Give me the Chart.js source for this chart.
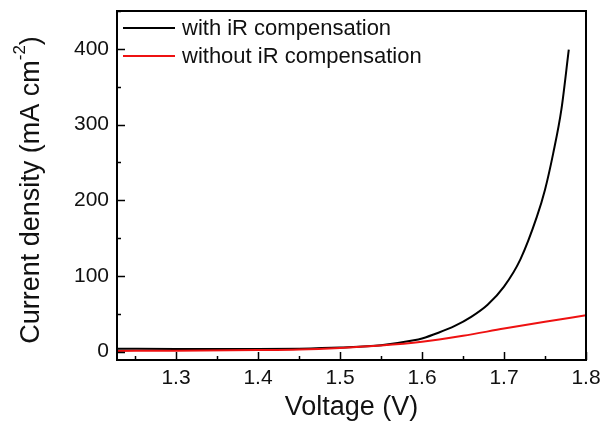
<!DOCTYPE html>
<html>
<head>
<meta charset="utf-8">
<script src="https://cdn.jsdelivr.net/npm/chart.js@4.4.1/dist/chart.umd.min.js"></script>
<style>
  html, body { margin: 0; padding: 0; background: #fff; }
  #wrap { width: 605px; height: 425px; }
</style>
</head>
<body>
<div id="wrap"><canvas id="chart-iv"></canvas></div>
<script>
// datos
const voltajeCon = [1.228, 1.30, 1.40, 1.45, 1.50, 1.55, 1.59, 1.60, 1.62, 1.64, 1.66, 1.68, 1.70, 1.72, 1.74, 1.75, 1.76, 1.77, 1.779];
const corrienteCon = [4, 3.5, 3.5, 4, 5.5, 8.5, 15, 17.5, 25, 34, 46, 62, 86, 122, 178, 214, 262, 320, 399];

const voltajeSin = [1.228, 1.30, 1.40, 1.45, 1.50, 1.55, 1.60, 1.65, 1.70, 1.75, 1.80];
const corrienteSin = [1, 1.3, 2.2, 3, 5, 8, 13, 21, 30.5, 39.5, 48];

const etiquetas = ["with iR compensation", "without iR compensation"];
const colores = ["#000000", "#ee1111"];

const ticksX = [1.3, 1.4, 1.5, 1.6, 1.7, 1.8];
const ticksY = [0, 100, 200, 300, 400];

const fuente = "'Liberation Sans', Arial, sans-serif";
const toXY = (xs, ys) => xs.map((x, i) => ({ x: x, y: ys[i] }));

// marco, ticks hacia dentro, leyenda y titulo Y
const decoracion = {
  id: "decoracion",
  afterDatasetsDraw(chart) {
    const { ctx, chartArea: a, scales } = chart;
    ctx.save();
    ctx.strokeStyle = "#000";
    ctx.lineWidth = 2;
    ctx.strokeRect(a.left, a.top, a.right - a.left, a.bottom - a.top);

    ctx.lineWidth = 1.5;
    ctx.beginPath();
    for (let v = 1.25; v <= 1.8001; v += 0.05) {
      const px = Math.round(scales.x.getPixelForValue(v)) + 0.5;
      const major = Math.abs(v * 10 - Math.round(v * 10)) < 0.01;
      ctx.moveTo(px, a.bottom);
      ctx.lineTo(px, a.bottom - (major ? 8 : 4));
    }
    for (let v = 0; v <= 450; v += 50) {
      const py = Math.round(scales.y.getPixelForValue(v)) + 0.5;
      ctx.moveTo(a.left, py);
      ctx.lineTo(a.left + (v % 100 === 0 ? 8 : 4), py);
    }
    ctx.stroke();

    // leyenda
    ctx.font = "22px " + fuente;
    ctx.textBaseline = "middle";
    ctx.fillStyle = "#111";
    [28, 56].forEach((y, i) => {
      ctx.strokeStyle = colores[i];
      ctx.lineWidth = 2;
      ctx.beginPath();
      ctx.moveTo(123, y);
      ctx.lineTo(175, y);
      ctx.stroke();
      ctx.fillText(etiquetas[i], 182, y + 1);
    });

    // titulo eje Y con superindice
    const f1 = "27px " + fuente;
    const f2 = "17px " + fuente;
    const t1 = "Current density (mA cm";
    const t2 = "-2";
    const t3 = ")";
    ctx.font = f1;
    const w1 = ctx.measureText(t1).width;
    const w3 = ctx.measureText(t3).width;
    ctx.font = f2;
    const w2 = ctx.measureText(t2).width;
    const total = w1 + w2 + w3;
    ctx.translate(32, 190);
    ctx.rotate(-Math.PI / 2);
    ctx.fillStyle = "#111";
    ctx.textBaseline = "middle";
    ctx.textAlign = "left";
    const x0 = -total / 2;
    ctx.font = f1;
    ctx.fillText(t1, x0, 0);
    ctx.font = f2;
    ctx.fillText(t2, x0 + w1, -12);
    ctx.font = f1;
    ctx.fillText(t3, x0 + w1 + w2, 0);
    ctx.restore();
  },
};

const ctx = document.getElementById("chart-iv").getContext("2d");
new Chart(ctx, {
  type: "line",
  data: {
    datasets: [
      {
        label: etiquetas[1],
        data: toXY(voltajeSin, corrienteSin),
        borderColor: colores[1],
        borderWidth: 2,
        pointRadius: 0,
        cubicInterpolationMode: "monotone",
        fill: false,
      },
      {
        label: etiquetas[0],
        data: toXY(voltajeCon, corrienteCon),
        borderColor: colores[0],
        borderWidth: 2,
        pointRadius: 0,
        cubicInterpolationMode: "monotone",
        fill: false,
      },
    ],
  },
  options: {
    responsive: true,
    maintainAspectRatio: false,
    animation: false,
    layout: { padding: { left: 0, right: 19, top: 11, bottom: 0 } },
    plugins: {
      legend: { display: false },
      tooltip: { enabled: false },
    },
    scales: {
      x: {
        type: "linear",
        min: 1.228,
        max: 1.8,
        afterBuildTicks: (s) => { s.ticks = ticksX.map((v) => ({ value: v })); },
        afterFit: (s) => {
          s.height = 65;
          s.paddingLeft = 0;
          s.paddingRight = 0;
        },
        grid: { display: false, drawTicks: false },
        border: { display: false },
        ticks: {
          color: "#111",
          padding: 6,
          font: { family: fuente, size: 21 },
          callback: (v) => v.toFixed(1),
        },
        title: {
          display: true,
          text: "Voltage (V)",
          color: "#111",
          font: { family: fuente, size: 27 },
          padding: { top: 0, bottom: 1 },
        },
      },
      y: {
        type: "linear",
        min: -11,
        max: 450,
        afterBuildTicks: (s) => { s.ticks = ticksY.map((v) => ({ value: v })); },
        afterFit: (s) => {
          s.width = 117;
          s.paddingTop = 0;
          s.paddingBottom = 0;
        },
        grid: { display: false, drawTicks: false },
        border: { display: false },
        ticks: {
          color: "#111",
          padding: 8,
          font: { family: fuente, size: 21 },
        },
      },
    },
  },
  plugins: [decoracion],
});
</script>
</body>
</html>
